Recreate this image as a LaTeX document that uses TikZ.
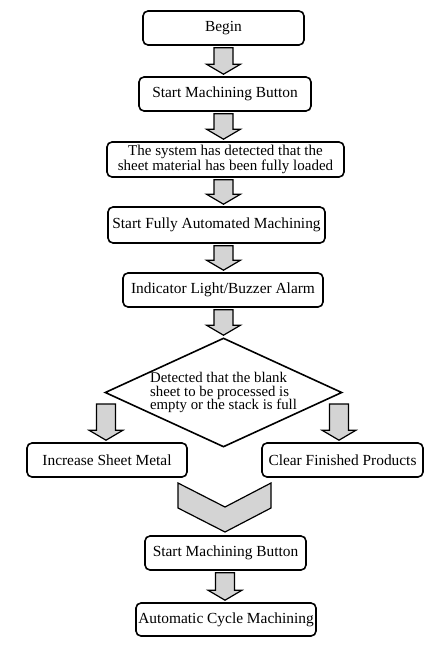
\documentclass[tikz,border=0pt]{standalone}
\usepackage{fontspec}
\setmainfont{Liberation Serif}
\usetikzlibrary{shapes.geometric,calc}
\definecolor{arrowgray}{RGB}{212,212,212}
\tikzset{
  box/.style={draw, line width=1.6pt, rounded corners=5pt, inner sep=0pt, align=center,
    font=\fontsize{15.4}{13}\selectfont},
  blk/.style={draw, line width=1.2pt, fill=arrowgray, line join=miter},
}
\newcommand\barrow[3]{\path[blk] let \p1=#2, \p2=#3 in
  (#1pt-9.5pt,\y1-2pt) -- (#1pt+9.5pt,\y1-2pt) -- (#1pt+9.5pt,\y2+12pt) -- (#1pt+17pt,\y2+12pt)
  -- (#1pt,\y2+2pt) -- (#1pt-17pt,\y2+12pt) -- (#1pt-9.5pt,\y2+12pt) -- cycle;}
\begin{document}
\begin{tikzpicture}[x=1pt,y=-1pt]
\useasboundingbox[fill=white] (0,0) rectangle (447,646);

\node[box, minimum width=161pt, minimum height=34pt] (begin) at (223.5,28) {Begin};
\node[box, minimum width=172pt, minimum height=34pt] (smb1) at (225,94) {Start Machining Button};
\node[box, minimum width=237pt, minimum height=35pt, font=\fontsize{15}{12}\selectfont] (sys) at (225.5,159.5) {The system has detected that the\\sheet material has been fully loaded};
\node[box, minimum width=217pt, minimum height=36pt] (sfam) at (216.5,225) {Start Fully Automated Machining};
\node[box, minimum width=200pt, minimum height=34pt] (ind) at (223,290) {Indicator Light/Buzzer Alarm};
\node[diamond, draw, line width=1.6pt, aspect=2.17, minimum width=237pt, minimum height=109pt,
  inner sep=0pt, align=left, font=\fontsize{14.8}{13.6}\selectfont] (dec) at (223.5,392.5)
  {Detected that the blank\\sheet to be processed is\\empty or the stack is full};
\node[box, minimum width=160pt, minimum height=34pt] (inc) at (107,460) {Increase Sheet Metal};
\node[box, minimum width=161pt, minimum height=34pt] (clr) at (342.5,460) {Clear Finished Products};
\node[box, minimum width=161pt, minimum height=34pt] (smb2) at (225.5,553) {Start Machining Button};
\node[box, minimum width=180pt, minimum height=33pt] (acm) at (226,619.5) {Automatic Cycle Machining};

\coordinate (lt) at (106,402);
\coordinate (rt) at (339,402);

\barrow{223.5}{(begin.south)}{(smb1.north)}
\barrow{223.5}{(smb1.south)}{(sys.north)}
\barrow{223.5}{(sys.south)}{(sfam.north)}
\barrow{223.5}{(sfam.south)}{(ind.north)}
\barrow{223.5}{(ind.south)}{(dec.north)}
\barrow{106}{(lt)}{(inc.north)}
\barrow{339}{(rt)}{(clr.north)}
\barrow{225}{(smb2.south)}{(acm.north)}

\path[blk] (178,483) -- (225,507) -- (271,483) -- (271,508) -- (225,532) -- (178,508) -- cycle;
\end{tikzpicture}
\end{document}
